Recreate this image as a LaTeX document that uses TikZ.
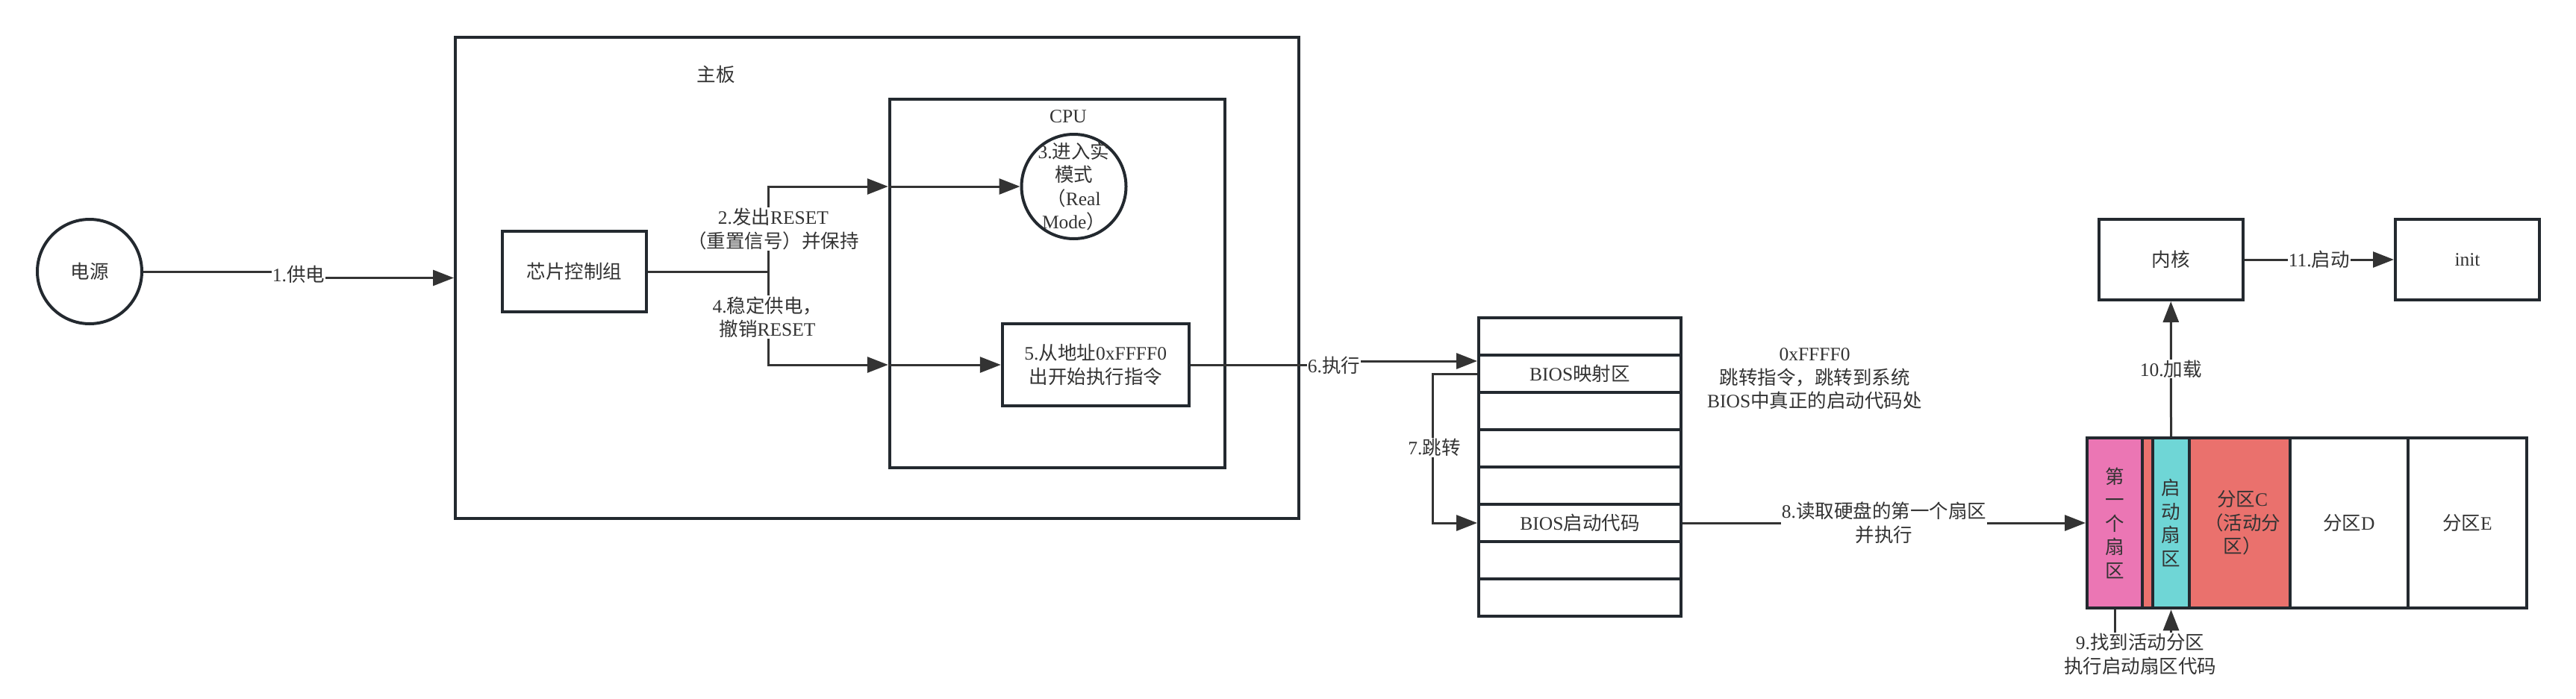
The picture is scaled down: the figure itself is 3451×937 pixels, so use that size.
\documentclass[tikz,border=0pt]{standalone}
\usepackage{fontspec}
\setmainfont{Liberation Serif}
\newfontfamily\cjk{Noto Sans CJK SC}
\usetikzlibrary{arrows.meta,positioning}
\definecolor{ink}{RGB}{51,51,51}
\definecolor{edge}{RGB}{35,41,47}
\definecolor{mypink}{RGB}{235,118,180}
\definecolor{mycyan}{RGB}{111,214,214}
\definecolor{myred}{RGB}{234,113,109}
\XeTeXinterchartokenstate=1
\newXeTeXintercharclass\hanclass
\newcount\hanc
\hanc="4E00
\loop
  \XeTeXcharclass\hanc=\hanclass
  \ifnum\hanc<"9FFF \advance\hanc by 1
\repeat
\XeTeXcharclass"FF0C=\hanclass
\XeTeXcharclass"FF08=\hanclass
\XeTeXcharclass"FF09=\hanclass
\XeTeXinterchartoks 0 \hanclass={\cjk}
\XeTeXinterchartoks 4095 \hanclass={\cjk}
\XeTeXinterchartoks \hanclass 0={\rmfamily}
\XeTeXinterchartoks \hanclass 4095={\rmfamily}
\begin{document}
\begin{tikzpicture}[x=1pt,y=-1pt,
      every node/.style={font=\fontsize{25.5pt}{31.5pt}\selectfont,text=ink},
      box/.style={draw=edge,line width=4pt,inner sep=0pt},
      circ/.style={circle,draw=edge,line width=4pt,minimum size=140pt,inner sep=0pt},
      arr/.style={-{Triangle[length=28pt,width=21pt]},line width=3pt,draw=ink},
      line/.style={line width=3pt,draw=ink},
      lbl/.style={fill=white,inner sep=1pt,align=center}]
    \useasboundingbox (0,0) rectangle (3451,937);
    \node[circ] (power) at (120,364) {电源};
    \node[box,minimum width=1130pt,minimum height=645pt] (board) at (1175,372.5) {};
    \node (boardlbl) at (959,100) {主板};
    \node[box,minimum width=193pt,minimum height=108pt] (chip) at (769.5,364) {芯片控制组};
    \node[box,minimum width=449pt,minimum height=494pt] (cpu) at (1416.3,380) {};
    \node (cpulbl) at (1431,156) {CPU};
    \node[circ] (real) at (1438.5,250) {};
    \node[align=center] (realtxt) at (real) {3.进入实\\模式\\（Real\\Mode）};
    \node[box,minimum width=250pt,minimum height=110pt,align=center] (exec) at (1467.75,489)
      {5.从地址0xFFFF0\\出开始执行指令};
    \foreach \i/\t in {1/{},2/BIOS映射区,3/{},4/{},5/{},6/BIOS启动代码,7/{},8/{}}
      \node[box,minimum width=271pt,minimum height=50pt] (bios\i) at (2116.5,{401+50*\i}) {\t};
    \node[align=center] (note) at (2431,508) {0xFFFF0\\跳转指令，跳转到系统\\BIOS中真正的启动代码处};
    \node[box,fill=myred,minimum width=197.6pt,minimum height=228.5pt] (partc) at (2968.8,701) {};
    \node[box,fill=mypink,minimum width=74pt,minimum height=228.5pt,align=center] (first) at (2833,701)
      {第\\一\\个\\扇\\区};
    \node[box,fill=mycyan,minimum width=49pt,minimum height=228.5pt,align=center] (boot) at (2908.5,701)
      {启\\动\\扇\\区};
    \node[align=center] (partctxt) at (3004,701) {分区C\\（活动分\\区）};
    \node[box,minimum width=158.4pt,minimum height=228.5pt] (partd) at (3146.8,701) {分区D};
    \node[box,minimum width=158.5pt,minimum height=228.5pt] (parte) at (3305.25,701) {分区E};
    \node[box,minimum width=192.5pt,minimum height=108pt] (kernel) at (2908.25,348) {内核};
    \node[box,minimum width=193pt,minimum height=108pt,right=200.5pt of kernel] (init) {init};
    \draw[arr] (power) -- (400,364) |- (board.west);
    \node[lbl] (l1) at (400,368) {1.供电};
    \coordinate (fork) at (1029,364);
    \draw[line] (chip.east) -- (fork);
    \draw[arr] (fork) |- (cpu.west |- real);
    \draw[arr] (cpu.west |- real) -- (real);
    \draw[arr] (fork) |- (cpu.west |- exec);
    \draw[arr] (cpu.west |- exec) -- (exec);
    \node[lbl] (l2) at (1036,307) {2.发出RESET\\（重置信号）并保持};
    \node[lbl] (l4) at (1028,425) {4.稳定供电，\\撤销RESET};
    \draw[arr] (exec.east) -- (1787,489) |- ([yshift=17pt]bios2.west);
    \node[lbl] (l6) at (1787,490) {6.执行};
    \draw[arr] (bios2.west) -- ++(-60,0) |- (bios6.west);
    \node[lbl] (l7) at (1921.5,600) {7.跳转};
    \draw[arr] (bios6.east) -- (first.west) node[lbl,midway] (l8) {8.读取硬盘的第一个扇区\\并执行};
    \draw[arr] (first.south) -- ++(0,45) -| (boot.south);
    \node[lbl] (l9) at (2867,877) {9.找到活动分区\\执行启动扇区代码};
    \draw[arr] (boot.north) -- (kernel.south) node[lbl,midway] (l10) {10.加载};
    \draw[arr] (kernel) -- (init) node[lbl,midway] (l11) {11.启动};
\end{tikzpicture}
\end{document}
